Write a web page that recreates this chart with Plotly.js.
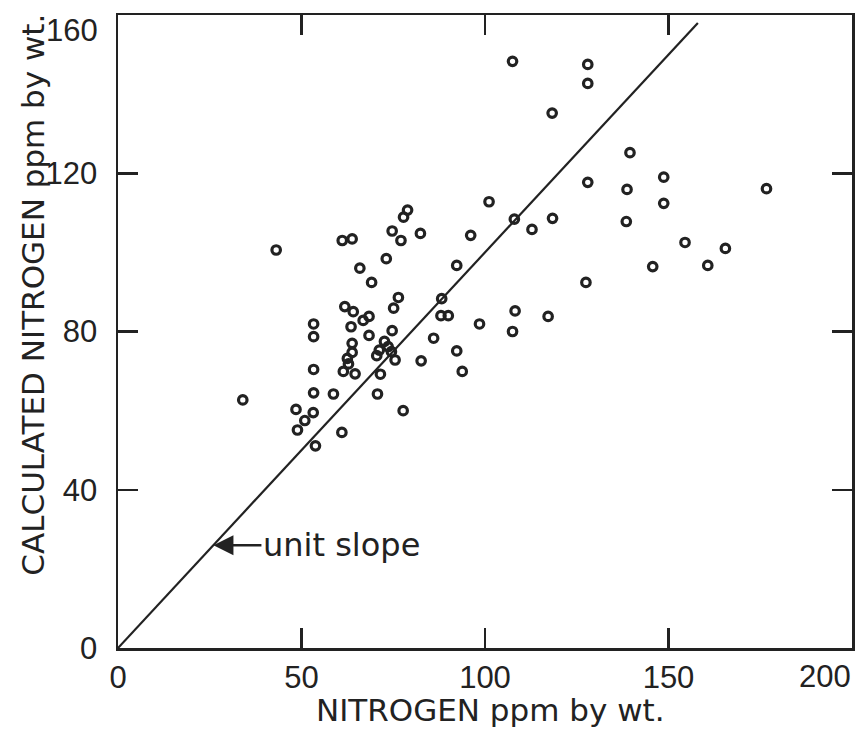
<!DOCTYPE html>
<html>
<head>
<meta charset="utf-8">
<script src="https://cdn.plot.ly/plotly-3.0.1.min.js"></script>
<style>
  html, body { margin: 0; padding: 0; background: #ffffff; }
  #chart { width: 860px; height: 735px; }
</style>
</head>
<body>
<div id="chart"></div>
<script>
// Measured nitrogen (ppm by wt.)
const measuredN = [43.1, 61.1, 63.8, 78.9, 77.8, 74.7, 77.1, 82.4, 73.1, 65.9,
  69.1, 76.4, 75.1, 61.8, 64.1, 68.4, 66.8, 63.5, 53.3, 53.3,
  68.4, 63.8, 74.7, 72.6, 73.6, 71.2, 70.5, 75.5, 74.5, 63.8,
  62.5, 62.8, 61.4, 64.6, 53.3, 71.5, 82.6, 86.0, 88.0, 34.0,
  53.3, 58.7, 70.7, 48.5, 53.2, 50.9, 48.9, 77.7, 61.0, 53.8,
  107.5, 128.0, 128.0, 118.3, 139.5, 128.0, 138.7, 138.5, 101.1, 108.0,
  118.4, 112.8, 96.1, 92.3, 145.7, 127.5, 88.2, 90.0, 98.5, 108.2,
  107.5, 117.2, 92.3, 93.8, 148.7, 148.7, 176.7, 154.5, 165.5, 160.7];
// Calculated nitrogen (ppm by wt.)
const calculatedN = [100.6, 103.0, 103.4, 110.7, 108.9, 105.4, 103.0, 104.8, 98.4, 96.0,
  92.4, 88.6, 85.9, 86.3, 85.0, 83.8, 82.8, 81.2, 81.9, 78.7,
  79.0, 77.0, 80.2, 77.5, 76.2, 75.3, 73.9, 72.8, 74.9, 74.7,
  73.2, 71.8, 69.9, 69.3, 70.4, 69.2, 72.6, 78.3, 84.0, 62.7,
  64.5, 64.2, 64.2, 60.3, 59.5, 57.5, 55.1, 60.0, 54.5, 51.1,
  148.3, 147.5, 142.7, 135.2, 125.2, 117.7, 115.9, 107.8, 112.8, 108.4,
  108.6, 105.8, 104.3, 96.7, 96.4, 92.4, 88.3, 84.0, 81.9, 85.2,
  80.0, 83.8, 75.1, 69.9, 119.0, 112.4, 116.1, 102.5, 101.0, 96.7];
// Unit slope reference line
const unitSlopeX = [0, 158];
const unitSlopeY = [0, 158];
// Ticks (the end labels 200 and 160 are drawn as annotations so they stay inside the page)
const xTicks = [0, 50, 100, 150, 200];
const xTickText = ['0', '50', '100', '150', ''];
const yTicks = [0, 40, 80, 120, 160];
const yTickText = ['0', '40', '80', '120', ''];

const ink = '#222222';
const titleFont = { family: 'DejaVu Sans, sans-serif', size: 31, color: ink };
const tickFont = { family: 'Liberation Sans, Arial, sans-serif', size: 31, color: ink };

const traces = [
  {
    x: unitSlopeX, y: unitSlopeY, type: 'scatter', mode: 'lines',
    line: { color: ink, width: 2.2 }, hoverinfo: 'skip', showlegend: false
  },
  {
    x: measuredN, y: calculatedN, type: 'scatter', mode: 'markers',
    marker: { symbol: 'circle-open', size: 8.5, color: ink, line: { color: ink, width: 3.2 } },
    showlegend: false
  }
];

const axisCommon = {
  showgrid: false, zeroline: false, showline: true, linecolor: ink, linewidth: 2.5,
  mirror: 'ticks', ticks: 'inside', ticklen: 20, tickwidth: 2.5, tickcolor: ink,
  tickfont: tickFont, fixedrange: true
};

const layout = {
  width: 860, height: 735,
  margin: { l: 118, r: 8, t: 15, b: 87, pad: 0 },
  paper_bgcolor: '#ffffff', plot_bgcolor: '#ffffff',
  xaxis: Object.assign({}, axisCommon, {
    range: [0, 200], tickmode: 'array', tickvals: xTicks, ticktext: xTickText
  }),
  yaxis: Object.assign({}, axisCommon, {
    range: [0, 160], tickmode: 'array', tickvals: yTicks, ticktext: yTickText,
    ticklabelstandoff: 12
  }),
  annotations: [
    {
      xref: 'paper', yref: 'paper', x: 1.001, y: -0.045,
      text: String(xTicks[4]), showarrow: false,
      xanchor: 'right', yanchor: 'middle', font: tickFont
    },
    {
      xref: 'paper', yref: 'paper', x: -0.0245, y: 0.975,
      text: String(yTicks[4]), showarrow: false,
      xanchor: 'right', yanchor: 'middle', font: tickFont
    },
    {
      xref: 'paper', yref: 'paper', x: 0.507, y: -0.098,
      text: 'NITROGEN ppm by wt.', showarrow: false,
      xanchor: 'center', yanchor: 'middle', font: titleFont
    },
    {
      xref: 'paper', yref: 'paper', x: -0.116, y: 0.558,
      text: 'CALCULATED NITROGEN ppm by wt.', showarrow: false, textangle: -90,
      xanchor: 'center', yanchor: 'middle', font: titleFont
    },
    {
      xref: 'x', yref: 'y', x: 26, y: 26,
      text: 'unit slope', showarrow: true, ax: 128, ay: 0,
      arrowhead: 2, arrowsize: 1.6, arrowwidth: 2.5, arrowcolor: ink, standoff: 0,
      font: { family: 'DejaVu Sans, sans-serif', size: 32, color: ink }
    }
  ]
};

Plotly.newPlot('chart', traces, layout, { displayModeBar: false, staticPlot: true });
</script>
</body>
</html>
